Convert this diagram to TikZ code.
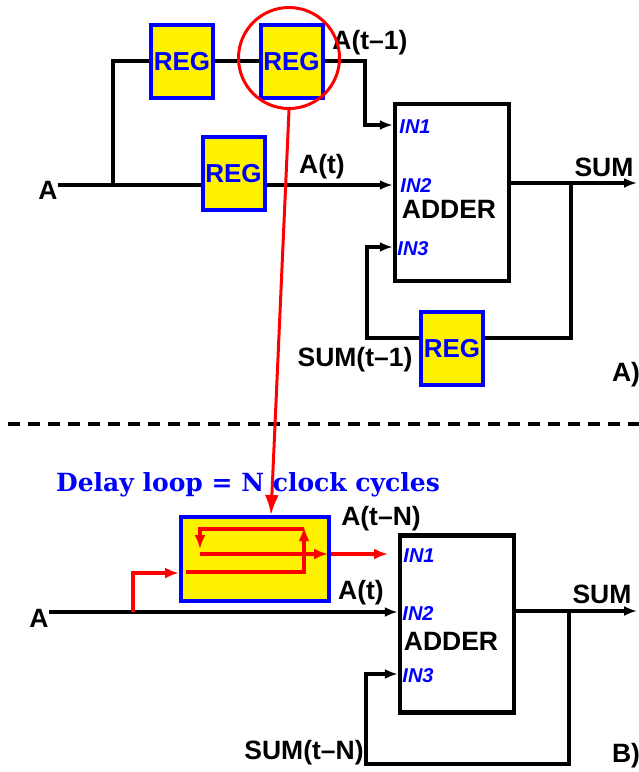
\documentclass[tikz,border=0pt]{standalone}
\usepackage{fontspec}
\setmainfont{Liberation Sans}
\newfontfamily\capfont{DejaVu Serif}
\usetikzlibrary{arrows.meta,calc,positioning}
\tikzset{
    wire/.style={draw, line width=4pt},
    edge/.style={wire, -{Latex[length=13pt,width=10pt]}},
    redge/.style={draw=red, line width=4pt, -{Latex[length=14pt,width=11pt]}},
    reg/.style={draw=blue, fill=yellow, line width=4pt, minimum width=62pt, minimum height=73pt,
                inner sep=0pt, text=blue, font=\bfseries\fontsize{26}{26}\selectfont},
    adder/.style={draw, line width=4.5pt, minimum width=114pt, minimum height=177pt},
    sig/.style={inner sep=0pt, font=\bfseries\fontsize{26.5}{26.5}\selectfont},
    port/.style={inner sep=0pt, text=blue, font=\bfseries\itshape\fontsize{20}{20}\selectfont}
}

\begin{document}
\begin{tikzpicture}[x=1pt, y=-1pt]
    \useasboundingbox (0,0) rectangle (639,772);

    % A) nodes
    \node[sig] (inA) at (48,190) {A};
    \node[reg] (r1) at (182,61.5) {REG};
    \node[reg] (r2) at (291.5,61.5) {REG};
    \node[reg] (r3) at (233.5,173.5) {REG};
    \node[reg] (r4) at (452,348.5) {REG};
    \node[adder] (add) at (452,192.5) {};
    \node[port] (in1) at (415,127) {IN1};
    \node[port] (in2) at (416,186) {IN2};
    \node[sig] (addname) at (449,209) {ADDER};
    \node[port] (in3) at (413,249) {IN3};
    \node[sig] (at1) at (370,43) {A(t--1)};
    \node[sig] (at0) at (322,167) {A(t)};
    \node[sig] (sumA) at (604,167) {SUM};
    \node[sig] (sum1) at (355,360) {SUM(t--1)};
    \node[sig] (labA) at (626,375) {A)};

    \coordinate (j1) at (113,185);
    \coordinate (k1) at (365,61);
    \coordinate (p1) at (365,125);
    \coordinate (j2) at (571,183);
    \coordinate (outA) at (637,183);
    \coordinate (f1) at (571,338);
    \coordinate (f2) at (367,338);
    \coordinate (p3) at (367,247);

    % A) edges
    \draw[wire] (inA.east |- j1) -- (r3.west |- j1);
    \draw[edge] (r3.east |- j1) -- (add.west |- j1);
    \draw[wire] (j1) |- (r1.west |- k1);
    \draw[wire] (r1.east |- k1) -- (r2.west |- k1);
    \draw[edge] (r2.east |- k1) -- (k1) -- (p1) -- (add.west |- p1);
    \draw[edge] (add.east |- j2) -- (outA);
    \draw[wire] (j2) -- (f1) -- (r4.east |- f1);
    \draw[edge] (r4.west |- f1) -- (f2) -- (p3) -- (add.west |- p3);

    \node[circle, draw=red, line width=3pt, minimum size=101pt, inner sep=0pt] (zoomc) at (289,58) {};

    % separator
    \draw[line width=4pt, dash pattern=on 12pt off 8pt] (8,424) -- (639,424);

    % B) nodes
    \node[inner sep=0pt, text=blue, font=\capfont\bfseries\fontsize{25}{25}\selectfont] (cap) at (248,485)
        {Delay loop = N clock cycles};
    \node[draw=blue, fill=yellow, line width=4pt, minimum width=148pt, minimum height=84pt] (delay) at (255,559) {};
    \node[sig] (inB) at (39,618) {A};
    \node[adder] (addB) at (457,624) {};
    \node[port] (in1B) at (419,556) {IN1};
    \node[port] (in2B) at (418,614) {IN2};
    \node[sig] (addnameB) at (451,641) {ADDER};
    \node[port] (in3B) at (418,676) {IN3};
    \node[sig] (atN) at (381,519) {A(t--N)};
    \node[sig] (at0B) at (361,593) {A(t)};
    \node[sig] (sumB) at (602,594) {SUM};
    \node[sig] (sumN) at (304,753) {SUM(t--N)};
    \node[sig] (labB) at (626,756) {B)};

    \coordinate (q1) at (133,612);
    \coordinate (j3) at (569,611);
    \coordinate (outB) at (637,611);
    \coordinate (g1) at (569,764);
    \coordinate (g2) at (366,764);
    \coordinate (g3) at (366,674);
    \coordinate (dtop) at (271,515);
    \coordinate (dout) at (388,554);

    % B) edges
    \draw[edge] (inB.east |- q1) -- (addB.west |- q1);
    \draw[edge] (addB.east |- j3) -- (outB);
    \draw[edge] (j3) -- (g1) -- (g2) -- (g3) -- (addB.west |- g3);

    % delay loop inside the box
    \draw[redge] (q1) |- (delay.west |- 0,573);
    \draw[redge] (186,572) -- (304,572) -- (304,527);
    \draw[redge] (304,529) -- (200,529) -- (200,549);
    \draw[redge] (200,554) -- (328,554);
    \draw[redge] (delay.east |- dout) -- (dout);

    % zoom line
    \draw[draw=red, line width=3pt, -{Latex[length=20pt,width=14pt]}] (zoomc.south) -- (dtop);
\end{tikzpicture}
\end{document}
